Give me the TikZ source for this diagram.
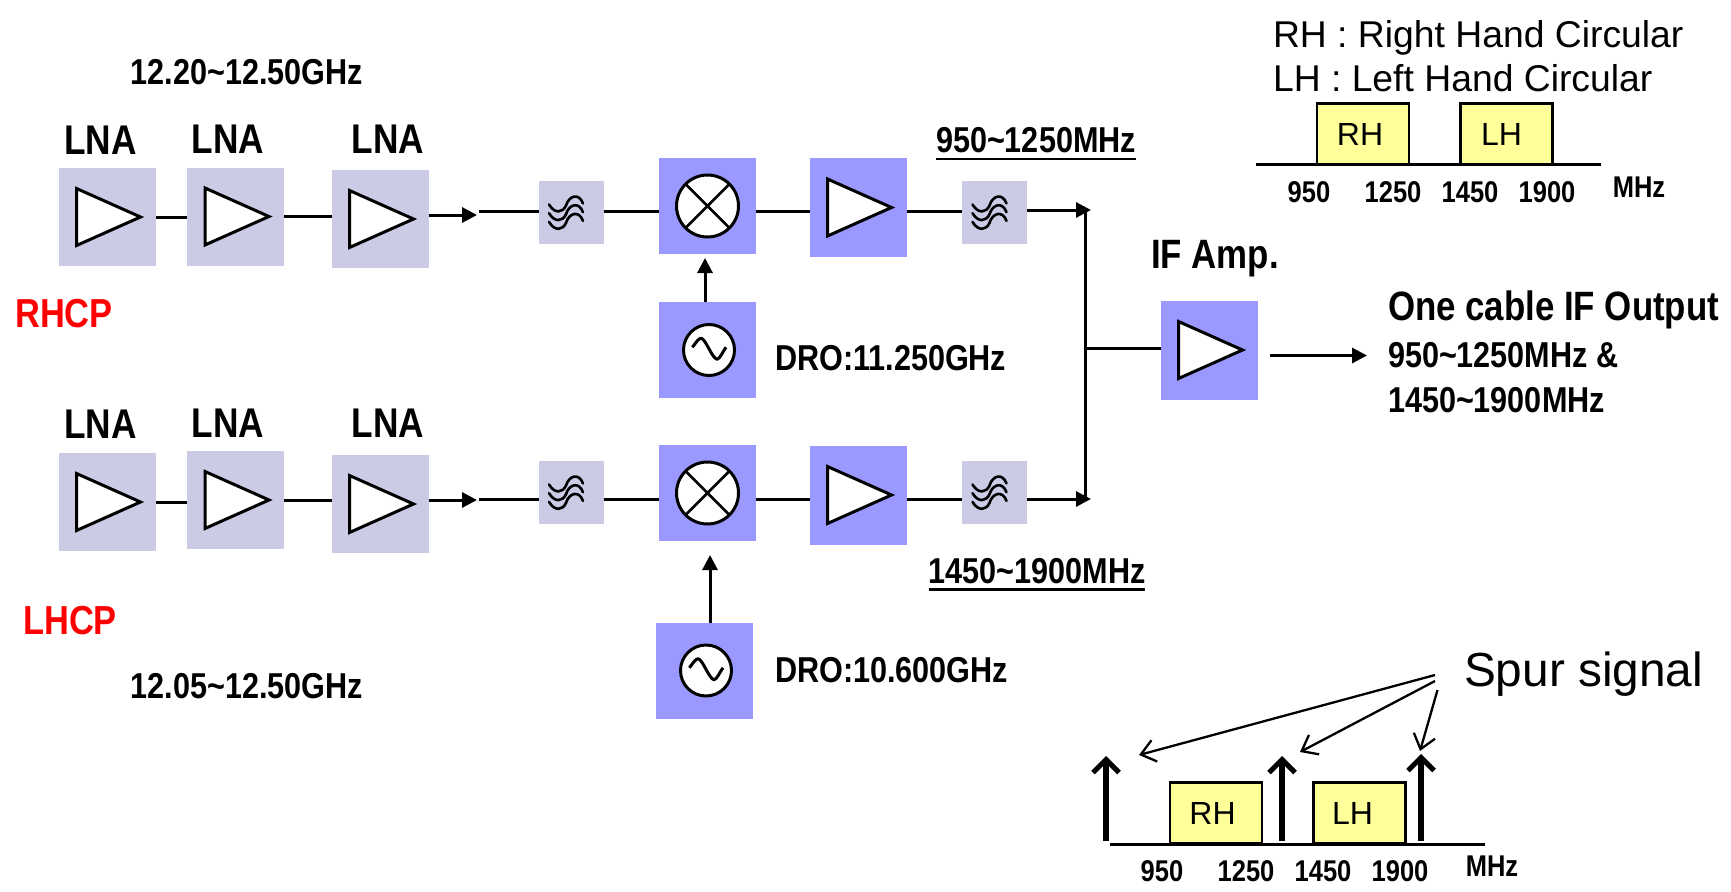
\documentclass[tikz,border=0pt]{standalone}
\usepackage{fontspec}
\usetikzlibrary{arrows.meta}
\setmainfont{Liberation Sans}
\newfontfamily\nbfont[FakeStretch=0.85]{Liberation Sans Bold}
\definecolor{lightblk}{HTML}{CBCBE6}
\definecolor{strongblk}{HTML}{9999FF}
\definecolor{bandyel}{HTML}{FFFF99}
\tikzset{
  blk/.style={draw=none,inner sep=0,outer sep=0},
  lnabox/.style={blk,fill=lightblk,minimum width=97pt,minimum height=98pt},
  filtbox/.style={blk,fill=lightblk,minimum width=65pt,minimum height=63pt},
  mixbox/.style={blk,fill=strongblk,minimum width=97pt,minimum height=96pt},
  ampbox/.style={blk,fill=strongblk,minimum width=97pt,minimum height=99pt},
  band/.style={draw=black,line width=2.5pt,fill=bandyel,inner sep=0,outer sep=0,minimum width=92pt,minimum height=61pt,font=\fontsize{32}{32}\selectfont},
  bt/.style={inner sep=0,outer sep=0,text depth=0pt,text height=#1*0.716pt,font=\nbfont\fontsize{#1}{#1}\selectfont},
  rt/.style={inner sep=0,outer sep=0,text depth=0pt,text height=#1*0.716pt,font=\fontsize{#1}{#1}\selectfont},
  wire/.style={line width=3pt,draw=black},
  flow/.style={wire,-{Triangle[length=15pt,width=15pt]},shorten >=0pt},
  spur/.style={line width=6pt,draw=black,-{Straight Barb[length=13pt,width=26pt,line width=5pt]}},
  note/.style={line width=2.3pt,draw=black,-{Straight Barb[length=14pt,width=22pt,line width=2.3pt]}},
  ampsym/.pic={\draw[line width=3pt,fill=white,line join=miter] (-30.5,-28.5) -- (33.5,0) -- (-30.5,28.5) -- cycle;},
  mixsym/.pic={\draw[line width=3pt,fill=white] (0,0) circle[radius=31];
    \draw[line width=2.6pt] (-21.9,-21.9) -- (21.9,21.9) (-21.9,21.9) -- (21.9,-21.9);},
  oscsym/.pic={\draw[line width=3pt,fill=white] (0,0) circle[radius=25.5];
    \draw[line width=3pt,line join=round] (-16.6,-2.7) .. controls (-12,-9) and (-10,-12) .. (-7.5,-11.7) .. controls (-3,-10) and (3,8) .. (8,9.3) .. controls (11,9) and (14,1) .. (17,-2.7);},
  filtsym/.pic={\foreach \d in {0,8.7,17.4}{
    \draw[line width=2.6pt,line cap=round] (-22,-8+\d) .. controls (-16,2+\d) and (-8,0+\d) .. (-5,-7+\d) .. controls (-2,-17+\d) and (8,-20+\d) .. (12,-9+\d);}}
}
\begin{document}
\begin{tikzpicture}[x=1pt,y=-1pt]
\useasboundingbox[fill=white] (0,0) rectangle (1731,891);
% rails
\coordinate (railA) at (0,211);
\coordinate (railB) at (0,499);
% blocks
\node[lnabox] (l1) at (107,217) {};
\node[lnabox] (l2) at (235.5,216.5) {};
\node[lnabox] (l3) at (380,219) {};
\node[lnabox] (l4) at (107,502) {};
\node[lnabox] (l5) at (235.5,500) {};
\node[lnabox] (l6) at (380,504) {};
\node[filtbox] (f1) at (571,212.5) {};
\node[filtbox] (f2) at (571,492.5) {};
\node[filtbox] (f3) at (994.5,212.5) {};
\node[filtbox] (f4) at (994.5,492.5) {};
\node[mixbox] (m1) at (707.5,206) {};
\node[mixbox] (m2) at (707.5,493) {};
\node[ampbox] (a1) at (858,207.5) {};
\node[ampbox] (a2) at (858,495) {};
\node[mixbox] (o1) at (707.5,350) {};
\node[mixbox] (o2) at (704.5,670.5) {};
\node[ampbox] (ifa) at (1209,350) {};
% symbols
\foreach \n in {l1,l2,l3,l4,l5,l6,a1,a2,ifa} \pic at (\n.center) {ampsym};
\pic at (m1.center) {mixsym};
\pic at (m2.center) {mixsym};
\pic at (o1.center) [xshift=1.5pt] {oscsym};
\pic at (o2.center) [xshift=1.5pt] {oscsym};
\foreach \n in {f1,f2,f3,f4} \pic at (\n.center) {filtsym};
% free ends
\coordinate (t1) at (477,215);
\coordinate (t1b) at (479,211);
\coordinate (t2) at (477,500);
\coordinate (t2b) at (479,499);
\coordinate (jt) at (1085,210);
\coordinate (jb) at (1085,499);
\coordinate (jtt) at (1091,210);
\coordinate (jbt) at (1091,499);
\coordinate (jm) at (1085,348);
\coordinate (outa) at (1270,355.5);
\coordinate (outb) at (1367,355.5);
% connectors
\draw[wire] (l1.east) -- (l2.west |- l1.east);
\draw[wire] (l2.east) -- (l3.west |- l2.east);
\draw[wire] (l4.east) -- (l5.west |- l4.east);
\draw[wire] (l5.east) -- (l6.west |- l5.east);
\draw[flow] (l3.east |- t1) -- (t1);
\draw[flow] (l6.east |- t2) -- (t2);
\draw[wire] (t1b) -- (f1.west |- t1b);
\draw[wire] (t2b) -- (f2.west |- t2b);
\draw[wire] (f1.east |- railA) -- (m1.west |- railA);
\draw[wire] (m1.east |- railA) -- (a1.west |- railA);
\draw[wire] (a1.east |- railA) -- (f3.west |- railA);
\draw[wire] (f2.east |- railB) -- (m2.west |- railB);
\draw[wire] (m2.east |- railB) -- (a2.west |- railB);
\draw[wire] (a2.east |- railB) -- (f4.west |- railB);
\draw[flow] (f3.east |- jtt) -- (jtt);
\draw[flow] (f4.east |- jbt) -- (jbt);
\draw[wire] (jt) -- (jb);
\draw[wire] (jm) -- (ifa.west |- jm);
\draw[flow] (outa) -- (outb);
\coordinate (o1a) at (705,258);
\coordinate (o2a) at (710,555);
\draw[flow] (o1.north -| o1a) -- (o1a);
\draw[flow] (o2.north -| o2a) -- (o2a);
% texts
\node[bt=36] (tfa) at (247,72) {12.20\textasciitilde 12.50GHz};
\node[bt=36] (tfb) at (247,685.5) {12.05\textasciitilde 12.50GHz};
\node[bt=41.5] (na) at (100.5,140) {LNA};
\node[bt=41.5] (nb) at (228,139) {LNA};
\node[bt=41.5] (nc) at (388,139) {LNA};
\node[bt=41.5] (nd) at (100.5,424) {LNA};
\node[bt=41.5] (ne) at (228,423) {LNA};
\node[bt=41.5] (nf) at (388,423) {LNA};
\node[bt=40.5,text=red] (rhcp) at (64,313) {RHCP};
\node[bt=40.5,text=red] (lhcp) at (70,620) {LHCP};
\node[bt=36] (ifh) at (1036,140) {950\textasciitilde 1250MHz};
\node[bt=36] (ifl) at (1037,571) {1450\textasciitilde 1900MHz};
\coordinate (ua) at (936,159); \coordinate (ub) at (1136,159);
\coordinate (uc) at (928.5,589.5); \coordinate (ud) at (1145,589.5);
\draw[line width=2.2pt] (ua) -- (ub);
\draw[line width=2.2pt] (uc) -- (ud);
\node[bt=36,anchor=west] (dra) at (775,358) {DRO:11.250GHz};
\node[bt=36,anchor=west] (drb) at (775,670) {DRO:10.600GHz};
\node[bt=41] (ift) at (1215,254) {IF Amp.};
\node[bt=41,anchor=west] (oca) at (1388,306) {One cable IF Output};
\node[bt=36,anchor=west] (ocb) at (1388,355) {950\textasciitilde 1250MHz \&};
\node[bt=36,anchor=west] (occ) at (1388,400) {1450\textasciitilde 1900MHz};
% top spectrum
\node[rt=37.3,anchor=west] (lg1) at (1273,34) {RH : Right Hand Circular};
\node[rt=37.3,anchor=west] (lg2) at (1273,78) {LH : Left Hand Circular};
\coordinate (ba) at (1256,164.5); \coordinate (bb) at (1601,164.5);
\node[band] (rh1) at (1363,134) {RH\hspace*{6pt}};
\node[band] (lh1) at (1506.5,134) {LH\hspace*{10pt}};
\draw[line width=2.6pt] (ba) -- (bb);
\node[bt=30] (s1) at (1309,192) {950};
\node[bt=30] (s2) at (1393,192) {1250};
\node[bt=30] (s3) at (1470,192) {1450};
\node[bt=30] (s4) at (1547,192) {1900};
\node[bt=30] (s5) at (1639,187) {MHz};
% bottom spectrum
\coordinate (bc) at (1110,844.5); \coordinate (bd) at (1485,844.5);
\node[band] (rh2) at (1216,813) {RH\hspace*{7pt}};
\node[band] (lh2) at (1359.5,813) {LH\hspace*{14pt}};
\draw[line width=2.6pt] (bc) -- (bd);
\node[bt=30] (s6) at (1162,871) {950};
\node[bt=30] (s7) at (1246,871) {1250};
\node[bt=30] (s8) at (1323,871) {1450};
\node[bt=30] (s9) at (1400,871) {1900};
\node[bt=30] (s10) at (1492,866) {MHz};
\coordinate (sa1) at (1106,841); \coordinate (sa2) at (1106,756);
\coordinate (sb1) at (1282,841); \coordinate (sb2) at (1282,756);
\coordinate (sc1) at (1421,841); \coordinate (sc2) at (1421,754);
\draw[spur] (sa1) -- (sa2);
\draw[spur] (sb1) -- (sb2);
\draw[spur] (sc1) -- (sc2);
\node[rt=47.8,anchor=west] (sp) at (1464,669) {Spur signal};
\coordinate (na1) at (1435,675); \coordinate (na2) at (1139,755);
\coordinate (nb1) at (1435,681); \coordinate (nb2) at (1300,752);
\coordinate (nc1) at (1437.5,690); \coordinate (nc2) at (1420,751);
\draw[note] (na1) -- (na2);
\draw[note] (nb1) -- (nb2);
\draw[note] (nc1) -- (nc2);
\end{tikzpicture}
\end{document}
